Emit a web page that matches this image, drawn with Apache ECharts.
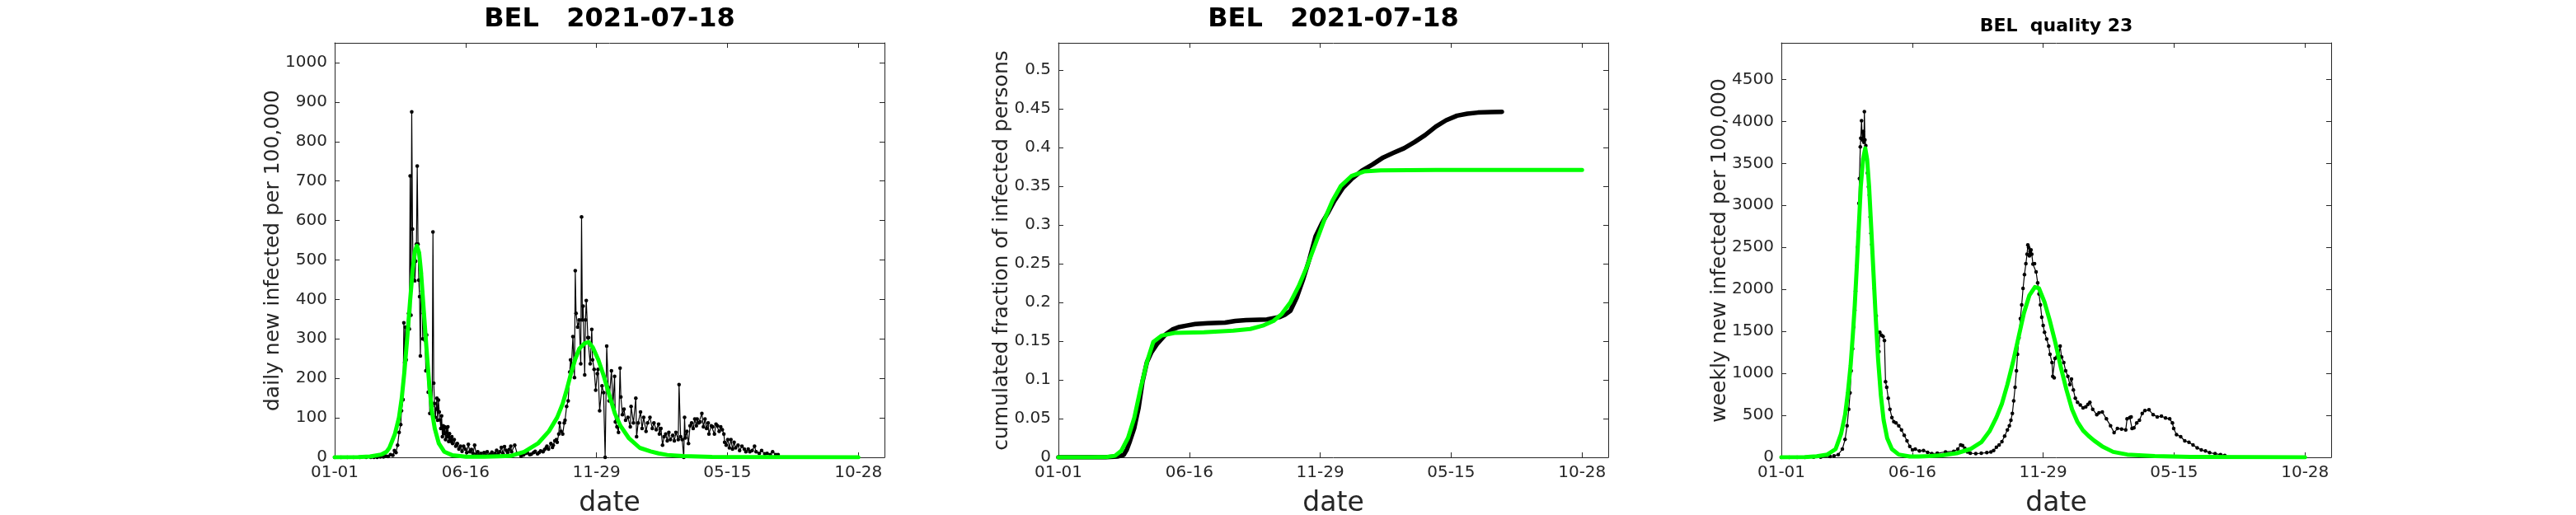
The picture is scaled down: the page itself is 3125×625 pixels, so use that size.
<!DOCTYPE html>
<html>
<head>
<meta charset="utf-8">
<script src="https://cdn.jsdelivr.net/npm/echarts@6/dist/echarts.min.js"></script>
<style>
html,body{margin:0;padding:0;background:#fff;}
#chart{width:3125px;height:625px;}
</style>
</head>
<body>
<div id="chart"></div>
<script>
// ---------- DATA (day index from 2020-01-01, value) ----------
const xTickValues = [0, 166.5, 333, 499.5, 666];
const xTickLabels = ['01-01', '06-16', '11-29', '05-15', '10-28'];
const xMax = 699.3;

const titles = ['BEL   2021-07-18', 'BEL   2021-07-18', 'BEL  quality 23'];
const yNames = ['daily new infected per 100,000', 'cumulated fraction of infected persons', 'weekly new infected per 100,000'];
const xName = 'date';
const yMax = [1050, 0.535, 4936];
const yInterval = [100, 0.05, 500];

const dailyCases = [
[0,0],[8,0],[16,0],[24,0],[32,0],[40,0],[46,0],[50,0],[54,0],[58,1],[62,1],[65,3],[68,2],[71,7],[74,5],[76,17],[78,12],[80,31],[82,63],[84,83],[85,118],[87,146],[88,341],[89,240],[90,330],[91,247],[92,292],[93,327],[94,365],[95,325],[96,713],[97,360],[98,875],[99,578],[100,449],[101,500],[102,447],[103,497],[104,540],[105,738],[106,540],[107,449],[108,407],[109,257],[110,466],[111,421],[112,300],[113,365],[114,330],[115,296],[116,219],[117,310],[118,240],[119,165],[120,191],[121,111],[122,157],[123,140],[124,129],[125,571],[126,188],[127,136],[128,101],[129,122],[130,150],[131,94],[132,145],[133,115],[134,95],[135,73],[136,105],[137,52],[138,80],[139,60],[140,77],[141,45],[142,75],[143,52],[144,77],[145,40],[146,60],[147,45],[148,40],[149,52],[150,35],[152,45],[154,28],[156,35],[158,21],[160,28],[162,15],[164,28],[166,21],[168,12],[170,33],[172,14],[174,20],[176,10],[178,31],[180,8],[182,14],[184,5],[186,10],[188,3],[190,12],[192,5],[194,14],[196,4],[198,8],[200,13],[202,6],[204,10],[206,18],[208,8],[210,14],[212,25],[214,10],[216,27],[218,18],[220,12],[222,20],[224,28],[225,14],[229,31],[232,10],[237,3],[240,6],[243,10],[245,12],[248,7],[250,8],[253,12],[255,15],[258,9],[260,12],[262,16],[265,14],[267,20],[269,24],[270,28],[272,21],[275,35],[277,25],[278,31],[280,42],[282,45],[283,38],[285,59],[286,87],[288,66],[290,59],[292,87],[293,94],[295,129],[297,143],[299,216],[300,247],[301,226],[303,306],[305,202],[306,473],[307,365],[309,330],[311,348],[313,237],[314,609],[315,348],[316,383],[318,209],[319,348],[320,397],[322,303],[323,303],[325,237],[327,324],[328,247],[330,223],[332,170],[334,212],[335,223],[337,118],[340,181],[342,164],[344,0],[346,282],[348,177],[349,143],[352,219],[354,132],[356,205],[357,90],[359,77],[361,63],[363,226],[364,153],[366,108],[368,122],[370,94],[373,101],[376,77],[377,129],[380,87],[383,150],[384,52],[386,87],[389,115],[391,73],[393,101],[396,66],[398,87],[401,101],[404,73],[406,87],[409,70],[412,84],[413,59],[415,73],[417,31],[419,52],[421,59],[423,42],[425,63],[427,45],[430,56],[432,42],[434,63],[437,45],[438,184],[440,52],[442,45],[444,0],[445,101],[446,49],[448,66],[450,35],[452,80],[454,87],[456,73],[458,97],[460,80],[461,97],[463,87],[465,90],[467,111],[469,77],[471,97],[473,73],[475,87],[476,59],[479,80],[481,77],[483,59],[485,84],[487,80],[489,66],[491,77],[493,70],[495,59],[496,38],[498,31],[500,45],[502,24],[504,45],[506,21],[508,38],[510,24],[513,31],[515,17],[518,28],[521,21],[523,14],[526,21],[528,14],[531,17],[534,28],[536,14],[540,10],[543,17],[547,9],[550,10],[554,7],[557,14],[561,7],[564,7]
];

const dailyFit = [
[0,0],[30,0.3],[45,2],[59,7],[66,14],[69.6,24],[76.6,59],[81.8,101],[85.3,150],[88.8,219],[92.3,303],[95.8,393],[99.3,477],[102,522],[104.6,536],[107.4,518],[109.8,470],[113.3,372],[116.8,275],[120.3,184],[123.8,115],[127.3,73],[132.5,35],[139.5,14],[150,5],[167,1.5],[190,1.5],[210,2.5],[223.5,3.5],[241,14],[258.5,35],[272.5,66],[283,101],[290,136],[295,170],[300.5,212],[305.7,247],[311,275],[318,289],[323,292],[328.4,278],[335.4,247],[342.4,205],[349.4,157],[356.4,111],[363.4,80],[374,49],[388,24],[402,15],[412,10],[423,6],[444,3],[480,1],[550,0.3],[666,0]
];

const cumCases = [
[0,0],[30,0],[60,0],[67,0.0005],[75,0.001],[83,0.003],[87,0.01],[91,0.021],[96.5,0.038],[102,0.064],[107,0.098],[112.6,0.123],[118,0.135],[126,0.147],[136.7,0.159],[145,0.165],[152.8,0.168],[163,0.170],[174,0.172],[190,0.173],[212,0.174],[225,0.176],[238.6,0.177],[265,0.178],[281.5,0.181],[288,0.184],[295,0.189],[303,0.206],[311,0.229],[319,0.255],[327,0.285],[335,0.302],[343,0.316],[351,0.331],[362,0.348],[372.6,0.359],[386,0.370],[399.5,0.378],[413,0.387],[426,0.393],[439.7,0.399],[453,0.407],[466.5,0.416],[480,0.427],[493,0.435],[507,0.441],[520,0.4435],[533.5,0.445],[549.6,0.4456],[564,0.446]
];

const cumFit = [
[0,0],[40,0],[62,0.0005],[72,0.002],[80,0.0085],[88.5,0.025],[96.5,0.051],[104.5,0.089],[112.6,0.123],[120.6,0.149],[131,0.157],[147.5,0.1606],[185,0.1614],[222.5,0.1635],[244,0.1657],[260,0.170],[273.5,0.176],[284,0.185],[295,0.2],[305.6,0.221],[316,0.246],[327,0.276],[338,0.306],[348.5,0.331],[359,0.350],[372.6,0.363],[388.7,0.369],[410,0.3705],[480,0.371],[666,0.371]
];

const weeklyCases = [
[0,0],[10,0],[20,0],[30,0],[41,2],[50,3],[62,10],[67,18],[72.4,33],[77.6,98],[81,213],[83.6,376],[85.7,572],[87.4,769],[88.8,1030],[90.6,1292],[92,1554],[93.4,1750],[94.4,1979],[95.8,2273],[96.9,2502],[97.9,2682],[98.6,3026],[99.3,3320],[100.4,3696],[101,3800],[102,4009],[103,3780],[104,3880],[105,3750],[105.6,4117],[106.3,3780],[107.4,3713],[108.4,3549],[109.5,3386],[110.8,3222],[111.9,3124],[113,2862],[114,2666],[115,2535],[116,2437],[117.2,2241],[118.2,2012],[119.2,1848],[120.6,1685],[122,1488],[123.1,1325],[124.1,1259],[125.2,1488],[127.3,1456],[129.4,1439],[131.1,1390],[132.5,900],[134,834],[136,703],[138.1,572],[140.6,474],[143,425],[145.8,409],[149.3,376],[152.8,327],[156.3,262],[159.8,196],[163.3,131],[166.8,88],[170.3,98],[175.6,75],[180.8,82],[186,60],[191.3,45],[198.3,49],[208.8,65],[219.3,72],[224.5,98],[228,147],[230.5,141],[233.3,108],[236.8,65],[240.3,49],[247.3,43],[254.3,49],[261.3,56],[266.5,65],[270,82],[273.5,121],[277,147],[280.5,186],[284,252],[287.5,327],[290,376],[292,442],[293.8,523],[295.5,671],[297.3,834],[299,1030],[300.4,1227],[302.2,1423],[304,1652],[305.7,1815],[307.4,2012],[309.2,2175],[311,2306],[312.5,2420],[313.5,2530],[314.5,2500],[315.5,2400],[316.5,2450],[317.5,2470],[318.5,2420],[320,2300],[322,2306],[324,2208],[326,2077],[327.7,1946],[329.5,1815],[331.2,1668],[333,1570],[334.7,1488],[337.5,1407],[340,1325],[341.7,1227],[344.2,1129],[345.2,965],[347,948],[348,1178],[350.4,1194],[352.9,1210],[354.6,1325],[356.4,1194],[359.2,1129],[361.6,1030],[364.4,965],[366.9,867],[369,932],[371.4,801],[373.9,703],[376.7,654],[380.2,622],[383.7,589],[387.2,600],[390,630],[392.4,654],[396,572],[401.2,507],[404,530],[408.2,540],[413.4,458],[418.7,376],[423.2,294],[427.4,343],[432.7,337],[438,327],[439.7,458],[443.2,474],[444.9,481],[446,343],[448.4,350],[452,409],[455.4,442],[459,523],[462.4,556],[467.6,566],[472.9,507],[478.1,481],[483.4,491],[488.6,468],[493.9,458],[497.4,409],[499,343],[502.6,271],[507.9,245],[513.1,196],[518.4,180],[523.6,147],[528.9,114],[534.1,88],[539.4,75],[544.6,56],[551.6,43],[558.6,33],[564,23]
];

const weeklyFit = [
[0,0],[30,2],[45,12],[58.4,33],[69,98],[75.9,278],[81.1,507],[84.6,769],[88.1,1096],[90.9,1456],[93.4,1815],[95.8,2241],[98.6,2764],[101,3222],[103.9,3549],[106.7,3680],[109.1,3549],[111.6,3222],[114.3,2731],[117.1,2208],[119.9,1685],[123.1,1161],[126.6,736],[130.1,442],[134.6,229],[140.6,98],[149.3,33],[163.3,10],[175,9],[188,14],[205,25],[223,49],[240.3,98],[254.3,180],[264.8,311],[273.5,474],[280.5,638],[287.5,867],[294.5,1129],[301.5,1423],[308.5,1717],[315.5,1930],[322.5,2028],[327.7,2012],[334.7,1848],[341.7,1619],[348.7,1358],[355.7,1063],[362.7,801],[369.7,572],[376.7,420],[383.7,320],[390.7,255],[397.7,200],[408,131],[422,65],[440,33],[475,14],[520,6],[600,2],[666,1]
];

// ---------- LAYOUT / STYLE ----------
const AX = '#262626';
const FONT = '"DejaVu Sans", "Noto Sans", sans-serif';
const GREEN = '#00ff00';
const grids = [
  {left: 406, top: 52, width: 667, height: 503},
  {left: 1284, top: 52, width: 667, height: 503},
  {left: 2161, top: 52, width: 667, height: 503}
];

function xLabelFmt(v) {
  for (let i = 0; i < xTickValues.length; i++) {
    if (Math.abs(v - xTickValues[i]) < 0.01) return xTickLabels[i];
  }
  return '';
}
function yLabelFmt(v) {
  return String(+(+v).toFixed(3));
}

const xAxes = [], yAxes = [];
grids.forEach((g, i) => {
  const lineStyle = {color: AX, width: 1};
  xAxes.push({
    gridIndex: i, type: 'value', position: 'bottom', min: 0, max: xMax, interval: 166.5,
    axisLine: {show: true, onZero: false, lineStyle},
    axisTick: {show: true, inside: true, length: 6, lineStyle},
    axisLabel: {show: true, formatter: xLabelFmt, color: AX, fontFamily: FONT, fontSize: 20, margin: 9, showMaxLabel: false},
    splitLine: {show: false}
  });
  xAxes.push({
    gridIndex: i, type: 'value', position: 'top', min: 0, max: xMax, interval: 166.5,
    axisLine: {show: true, onZero: false, lineStyle},
    axisTick: {show: true, inside: true, length: 6, lineStyle},
    axisLabel: {show: false}, splitLine: {show: false}
  });
  yAxes.push({
    gridIndex: i, type: 'value', position: 'left', min: 0, max: yMax[i], interval: yInterval[i],
    axisLine: {show: true, onZero: false, lineStyle},
    axisTick: {show: true, inside: true, length: 6, lineStyle},
    axisLabel: {show: true, formatter: yLabelFmt, color: AX, fontFamily: FONT, fontSize: 20, margin: 9, showMaxLabel: false},
    splitLine: {show: false}
  });
  yAxes.push({
    gridIndex: i, type: 'value', position: 'right', min: 0, max: yMax[i], interval: yInterval[i],
    axisLine: {show: true, onZero: false, lineStyle},
    axisTick: {show: true, inside: true, length: 6, lineStyle},
    axisLabel: {show: false}, splitLine: {show: false}
  });
});

function dotted(data, i, z) {
  return {
    type: 'line', xAxisIndex: 2 * i, yAxisIndex: 2 * i, data, z,
    symbol: 'circle', symbolSize: 4.5, showSymbol: true,
    itemStyle: {color: '#000'}, lineStyle: {color: '#000', width: 1.2},
    animation: false, silent: true
  };
}
function thick(data, i, color, w, z) {
  return {
    type: 'line', xAxisIndex: 2 * i, yAxisIndex: 2 * i, data, z,
    showSymbol: false, symbol: 'none',
    lineStyle: {color, width: w, cap: 'round', join: 'round'},
    animation: false, silent: true
  };
}

const series = [
  dotted(dailyCases, 0, 2),
  thick(dailyFit, 0, GREEN, 5, 3),
  thick(cumCases, 1, '#000', 5.5, 2),
  thick(cumFit, 1, GREEN, 5, 3),
  dotted(weeklyCases, 2, 2),
  thick(weeklyFit, 2, GREEN, 5, 3)
];

const graphic = [];
grids.forEach((g, i) => {
  const cx = g.left + g.width / 2;
  const big = i < 2;
  graphic.push({
    type: 'text', x: cx, y: big ? 24 : 32.5, silent: true,
    style: {text: titles[i], font: 'bold ' + (big ? 32 : 22) + 'px ' + FONT, fill: '#000', align: 'center', verticalAlign: 'middle'}
  });
  graphic.push({
    type: 'text', x: cx, y: 611, silent: true,
    style: {text: xName, font: '33px ' + FONT, fill: AX, align: 'center', verticalAlign: 'middle'}
  });
  const yx = [331.5, 1215.5, 2086][i];
  graphic.push({
    type: 'text', x: yx, y: 304, rotation: Math.PI / 2, silent: true,
    style: {text: yNames[i], font: '25px ' + FONT, fill: AX, align: 'center', verticalAlign: 'middle'}
  });
});

const chart = echarts.init(document.getElementById('chart'), null, {renderer: 'canvas', width: 3125, height: 625});
chart.setOption({
  animation: false,
  backgroundColor: '#fff',
  grid: grids,
  xAxis: xAxes,
  yAxis: yAxes,
  series,
  graphic
});
</script>
</body>
</html>
